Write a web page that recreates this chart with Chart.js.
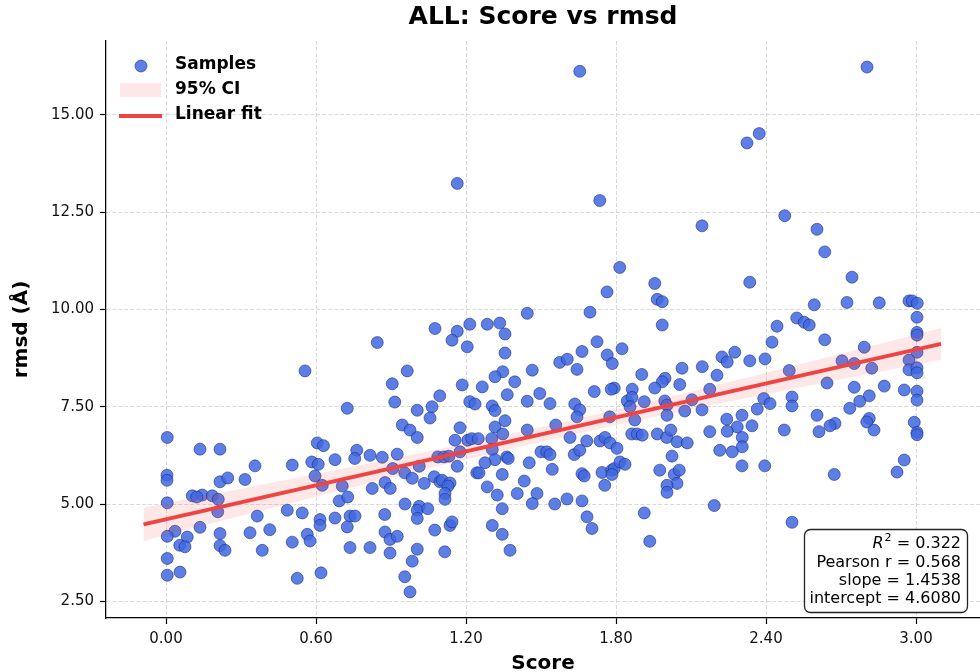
<!DOCTYPE html>
<html>
<head>
<meta charset="utf-8">
<title>ALL: Score vs rmsd</title>
<script src="https://cdn.jsdelivr.net/npm/chart.js@4.4.1/dist/chart.umd.min.js"></script>
<style>
  html, body { margin: 0; padding: 0; background: #fff; }
  #chart { display: block; }
</style>
</head>
<body>
<canvas id="chart" width="980" height="672"></canvas>
<script>
// samples as [score, rmsd]
const samples = [
  // score below ~0.65
  [0.005,6.71],[0.136,6.41],[0.216,6.41],[0.004,5.74],[0.004,5.61],[0.356,5.98],[0.216,5.57],[0.247,5.67],
  [0.316,5.63],[0.505,6.00],[0.583,6.08],[0.605,6.57],[0.63,6.50],[0.609,6.02],[0.596,5.72],[0.105,5.21],
  [0.145,5.23],[0.123,5.18],[0.185,5.21],[0.209,5.12],[0.005,5.03],[0.207,4.80],[0.365,4.69],[0.485,4.84],
  [0.545,4.77],[0.616,4.60],[0.616,4.45],[0.136,4.40],[0.036,4.30],[0.005,4.17],[0.085,4.15],[0.216,4.24],
  [0.336,4.26],[0.415,4.34],[0.565,4.22],[0.576,4.05],[0.505,4.02],[0.055,3.94],[0.076,3.90],[0.216,3.93],
  [0.236,3.81],[0.385,3.81],[0.005,3.60],[0.005,3.17],[0.056,3.25],[0.525,3.09],[0.62,3.23],[0.556,8.42],
  [0.625,5.48],
  // score 0.65 - 1.5
  [1.165,13.24],
  [1.445,9.90],[1.076,9.51],[1.165,9.44],[1.215,9.62],[1.285,9.62],[1.335,9.65],[1.356,9.37],[1.144,9.21],
  [1.205,9.04],[0.845,9.15],[1.356,8.88],[0.965,8.42],[0.905,8.09],[1.465,8.44],[1.347,8.40],[1.316,8.27],
  [1.395,8.14],[1.185,8.06],[1.265,8.01],[1.495,7.84],[1.095,7.78],[1.365,7.81],[0.915,7.62],[0.725,7.46],
  [1.005,7.41],[1.064,7.50],[1.215,7.63],[1.236,7.57],[1.305,7.52],[1.316,7.40],[1.445,7.64],[1.056,7.21],
  [0.945,7.03],[1.356,7.14],[1.176,6.96],[1.316,6.98],[0.976,6.90],[1.445,6.90],
  [0.676,6.14],[0.763,6.38],[0.755,6.17],[0.816,6.25],[0.865,6.20],[0.925,6.28],[0.907,5.91],[0.955,5.80],
  [0.985,5.66],[1.013,5.97],[1.005,6.71],[1.033,5.53],[1.073,5.70],[1.096,5.57],[1.105,5.61],[1.136,5.54],
  [1.128,5.46],[1.116,5.27],[1.116,5.12],[1.087,6.21],[1.112,6.21],[1.132,6.23],[1.165,5.97],[1.176,6.34],
  [1.156,6.64],[1.207,6.64],[1.223,6.68],[1.249,6.68],[1.303,6.68],[1.347,6.80],[1.305,6.40],[1.316,6.14],
  [1.276,6.06],[1.363,6.21],[1.369,6.17],[1.243,5.80],[1.252,5.80],[1.345,5.76],[1.285,5.44],[1.325,5.23],
  [1.345,4.88],[1.405,5.27],[1.433,5.59],[1.453,6.06],[1.484,5.27],[1.465,5.01],[1.50,6.34],[0.705,5.46],
  [0.825,5.40],[0.876,5.55],[0.897,5.40],[0.693,5.08],[0.727,5.18],[0.956,5.00],[1.013,4.94],[1.005,4.84],
  [1.047,4.88],[1.005,4.63],[0.676,4.64],[0.736,4.69],[0.756,4.69],[0.725,4.41],[0.875,4.73],[0.876,4.28],
  [0.896,4.09],[0.925,4.17],[0.896,3.74],[1.075,4.33],[1.136,4.45],[1.144,4.54],[0.736,3.88],[0.816,3.88],
  [1.005,3.84],[0.985,3.53],[0.955,3.13],[0.976,2.74],[1.115,3.77],[1.305,4.45],[1.345,4.22],[1.376,3.81],
  // score 1.5 - 2.4
  [1.655,16.12],[1.735,12.80],[2.324,14.28],[2.373,14.52],[2.144,12.15],
  [1.815,11.08],[1.955,10.67],[2.335,10.70],[1.764,10.45],[1.965,10.26],[1.985,10.20],[1.696,9.93],[1.985,9.60],
  [1.724,9.17],[1.824,8.99],[1.664,8.92],[1.765,8.83],[1.785,8.61],[1.575,8.64],[1.605,8.72],[1.644,8.46],
  [2.224,8.78],[2.275,8.90],[2.245,8.65],[2.335,8.68],[2.396,8.73],[1.903,8.33],[2.064,8.49],[2.145,8.53],
  [2.204,8.31],[1.996,8.23],[1.985,8.14],[2.055,8.07],[1.955,7.98],[1.865,7.95],[1.793,7.98],[1.781,7.95],
  [1.713,7.89],[2.175,7.95],[1.536,7.58],[1.635,7.57],[1.655,7.42],[1.644,7.24],[1.845,7.65],[1.864,7.74],
  [1.856,7.50],[1.913,7.63],[1.995,7.65],[2.004,7.54],[2.004,7.28],[2.104,7.68],[2.075,7.39],[2.144,7.42],
  [2.243,7.18],[2.304,7.28],[2.365,7.44],[2.391,7.71],[1.775,7.24],[1.559,7.03],[1.875,7.16],[2.285,6.98],
  [2.344,7.01],
  [1.616,6.71],[1.863,6.80],[1.885,6.80],[1.905,6.77],[1.965,6.80],[2.003,6.71],[2.019,6.90],[2.044,6.60],
  [2.085,6.57],[2.175,6.86],[2.245,6.87],[2.305,6.71],[2.305,6.47],[2.215,6.38],[2.265,6.34],[2.304,5.98],
  [1.683,6.62],[1.736,6.62],[1.756,6.71],[1.776,6.57],[1.804,6.43],[1.523,6.34],[1.536,6.27],[1.633,6.27],
  [1.655,6.38],[1.545,5.89],[1.664,5.78],[1.673,5.72],[1.744,5.81],[1.783,5.87],[1.793,5.91],[1.784,5.76],
  [1.816,6.08],[1.836,6.02],[1.755,5.48],[1.975,5.87],[2.024,6.23],[2.033,5.76],[2.053,5.87],[2.044,5.53],
  [2.004,5.48],[2.004,5.30],[1.555,5.00],[1.604,5.13],[1.664,5.08],[1.684,4.67],[1.704,4.37],[1.913,4.77],
  [1.935,4.04],[2.193,4.96],
  // score 2.4 and up
  [2.804,16.23],[2.475,12.41],[2.604,12.06],
  [2.635,11.48],[2.744,10.83],[2.593,10.12],[2.724,10.18],[2.853,10.17],[2.972,10.22],[2.985,10.22],[3.005,10.16],
  [2.444,9.57],[2.523,9.78],[2.553,9.67],[2.573,9.60],[3.004,9.80],[2.424,9.16],[2.635,9.22],[3.004,9.41],
  [3.004,9.34],[2.793,9.03],[2.704,8.68],[2.753,8.61],[3.004,8.90],[2.972,8.70],[2.493,8.43],[2.823,8.49],
  [2.972,8.45],[3.004,8.50],[3.004,8.37],[2.644,8.11],[2.753,8.00],[2.873,8.03],[2.953,7.93],[3.004,7.90],
  [3.004,7.67],[2.813,7.78],[2.775,7.64],[2.735,7.46],[2.416,7.58],[2.504,7.75],[2.504,7.52],[2.604,7.28],
  [2.676,7.07],[2.656,7.01],[2.813,7.20],[2.803,7.11],[2.993,7.10],[2.473,6.90],[2.612,6.86],[2.832,6.90],
  [3.004,6.84],[3.004,6.78],
  [2.395,5.98],[2.673,5.76],[2.953,6.13],[2.924,5.82],[2.504,4.53]
];

const xTicks = [0, 0.6, 1.2, 1.8, 2.4, 3.0];
const yTicks = [2.5, 5, 7.5, 10, 12.5, 15];

// regression summary
const fitSlope = 1.4538;
const fitIntercept = 4.6080;
const rSquared = 0.322;
const pearsonR = 0.568;
const fitSpan = [-0.09, 3.10];

const FONT = "'DejaVu Sans', sans-serif";
const RED = 'rgb(239, 68, 68)';
const BAND = 'rgba(239, 68, 68, 0.13)';
const DOT = 'rgba(65, 105, 225, 0.85)';
const DOT_EDGE = 'rgba(20, 40, 120, 0.7)';

const fitY = x => fitIntercept + fitSlope * x;

// 95% confidence band around the fitted line
function confidenceBand(steps) {
  const n = samples.length;
  const xm = samples.reduce((s, p) => s + p[0], 0) / n;
  let sxx = 0, sse = 0;
  samples.forEach(([x, y]) => {
    sxx += (x - xm) ** 2;
    sse += (y - fitY(x)) ** 2;
  });
  const se = Math.sqrt(sse / (n - 2));
  const upper = [], lower = [];
  for (let i = 0; i <= steps; i++) {
    const x = fitSpan[0] + (fitSpan[1] - fitSpan[0]) * i / steps;
    const h = 1.967 * se * Math.sqrt(1 / n + (x - xm) ** 2 / sxx);
    upper.push({x, y: fitY(x) + h});
    lower.push({x, y: fitY(x) - h});
  }
  return {upper, lower};
}

const band = confidenceBand(60);

// title, axis labels, legend and stats box
const decor = {
  id: 'decor',
  afterDraw(chart) {
    const ctx = chart.ctx;
    const area = chart.chartArea;
    const cx = (area.left + area.right) / 2;
    ctx.save();
    ctx.fillStyle = '#000';
    ctx.textBaseline = 'middle';
    ctx.textAlign = 'center';

    ctx.font = 'bold 25px ' + FONT;
    ctx.fillText('ALL: Score vs rmsd', cx, 17);

    ctx.font = 'bold 20px ' + FONT;
    ctx.fillText('Score', cx, 664);
    ctx.save();
    ctx.translate(22, (area.top + area.bottom) / 2);
    ctx.rotate(-Math.PI / 2);
    ctx.fillText('rmsd (Å)', 0, 0);
    ctx.restore();

    // legend
    ctx.beginPath();
    ctx.arc(141, 66, 6, 0, Math.PI * 2);
    ctx.fillStyle = DOT;
    ctx.fill();
    ctx.lineWidth = 0.8;
    ctx.strokeStyle = DOT_EDGE;
    ctx.stroke();
    ctx.fillStyle = BAND;
    ctx.fillRect(120, 83, 41, 14);
    ctx.beginPath();
    ctx.moveTo(119, 116);
    ctx.lineTo(162, 116);
    ctx.lineWidth = 4;
    ctx.strokeStyle = RED;
    ctx.stroke();

    ctx.fillStyle = '#000';
    ctx.textAlign = 'left';
    ctx.font = 'bold 17px ' + FONT;
    ctx.fillText('Samples', 175, 65);
    ctx.fillText('95% CI', 175, 90);
    ctx.fillText('Linear fit', 175, 115);

    // stats box
    ctx.beginPath();
    ctx.roundRect(804.5, 529.5, 163, 83, 6);
    ctx.fillStyle = '#fff';
    ctx.fill();
    ctx.lineWidth = 1.3;
    ctx.strokeStyle = '#222';
    ctx.stroke();

    const rx = 961;
    ctx.fillStyle = '#000';
    ctx.textAlign = 'right';
    ctx.textBaseline = 'alphabetic';
    ctx.font = '16px ' + FONT;
    const tail = ' = ' + rSquared.toFixed(3);
    ctx.fillText(tail, rx, 548);
    const tw = ctx.measureText(tail).width;
    ctx.font = '11px ' + FONT;
    ctx.fillText('2', rx - tw, 541);
    const sw = ctx.measureText('2').width;
    ctx.font = 'italic 16px ' + FONT;
    ctx.fillText('R', rx - tw - sw - 1, 548);

    ctx.font = '16px ' + FONT;
    ctx.fillText('Pearson r = ' + pearsonR.toFixed(3), rx, 567);
    ctx.fillText('slope = ' + fitSlope.toFixed(4), rx, 585);
    ctx.fillText('intercept = ' + fitIntercept.toFixed(4), rx, 603);
    ctx.restore();
  }
};

const axisStyle = (ticks) => ({
  type: 'linear',
  afterBuildTicks: scale => { scale.ticks = ticks.map(v => ({value: v})); },
  grid: {
    color: '#cfcfcf',
    lineWidth: 0.8,
    tickColor: '#000',
    tickWidth: 1.2,
    tickLength: 6,
    tickBorderDash: []
  },
  border: { display: true, color: '#000', width: 1.25, dash: [4, 2] },
  ticks: {
    color: '#111',
    padding: 6,
    font: { family: FONT, size: 15 },
    callback: v => Number(v).toFixed(2)
  }
});

const xAxis = Object.assign(axisStyle(xTicks), {
  min: -0.24, max: 3.256,
  afterFit: scale => { scale.height = 54; }
});
const yAxis = Object.assign(axisStyle(yTicks), {
  min: 2.07, max: 16.9,
  afterFit: scale => { scale.width = 106; }
});

new Chart(document.getElementById('chart'), {
  type: 'scatter',
  data: {
    datasets: [
      {
        label: 'Linear fit',
        type: 'line',
        data: fitSpan.map(x => ({x, y: fitY(x)})),
        borderColor: RED,
        borderWidth: 4,
        pointRadius: 0,
        fill: false,
        order: 1
      },
      {
        label: '95% CI',
        type: 'line',
        data: band.upper,
        borderWidth: 0,
        pointRadius: 0,
        backgroundColor: BAND,
        fill: '+1',
        order: 2
      },
      {
        label: 'ci-lower',
        type: 'line',
        data: band.lower,
        borderWidth: 0,
        pointRadius: 0,
        fill: false,
        order: 2
      },
      {
        label: 'Samples',
        data: samples.map(([x, y]) => ({x, y})),
        pointRadius: 6,
        pointHoverRadius: 6,
        backgroundColor: DOT,
        borderColor: DOT_EDGE,
        borderWidth: 0.8,
        order: 3
      }
    ]
  },
  options: {
    responsive: false,
    animation: false,
    devicePixelRatio: 1,
    layout: { autoPadding: false, padding: { top: 41, right: 0, bottom: 0, left: 0 } },
    plugins: {
      legend: { display: false },
      tooltip: { enabled: false },
      title: { display: false }
    },
    scales: { x: xAxis, y: yAxis }
  },
  plugins: [decor]
});
</script>
</body>
</html>
